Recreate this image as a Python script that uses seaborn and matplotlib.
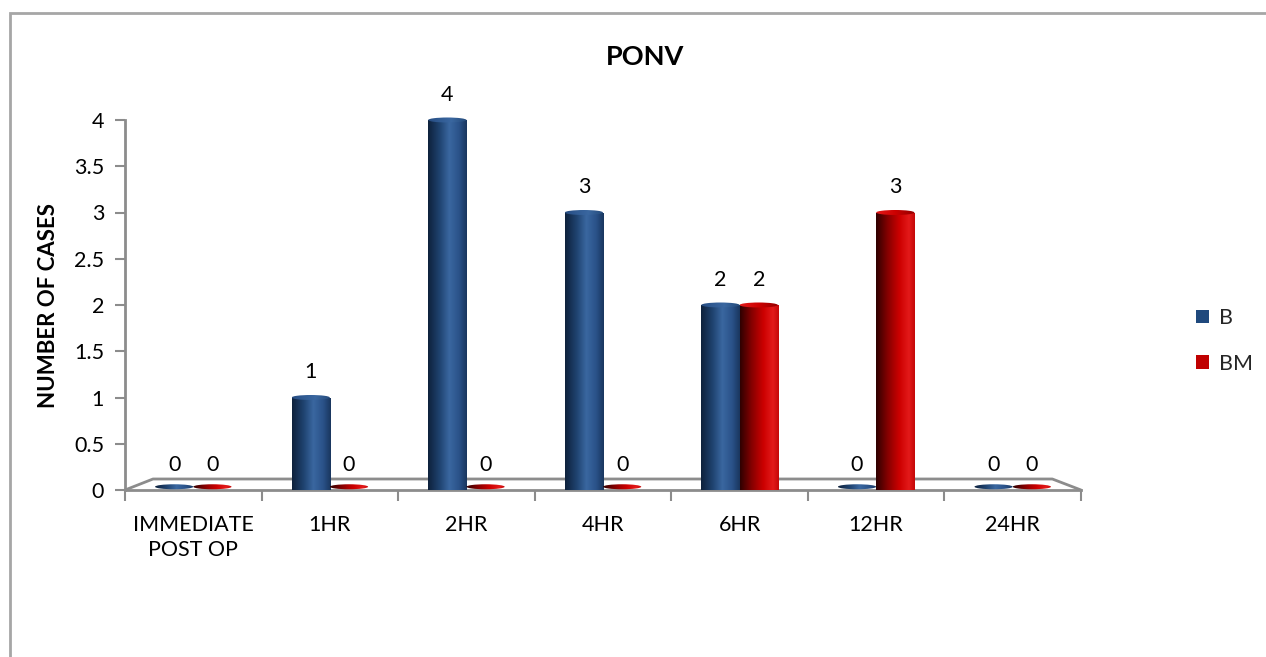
import numpy as np
import pandas as pd
import matplotlib
matplotlib.use("Agg")
import matplotlib.pyplot as plt
import matplotlib.patches as mpatches
from matplotlib.colors import LinearSegmentedColormap
import seaborn as sns

# ---- data ----
categories = ["IMMEDIATE\nPOST OP", "1HR", "2HR", "4HR", "6HR", "12HR", "24HR"]
series_names = ["B", "BM"]
b_values = [0, 1, 4, 3, 2, 0, 0]
bm_values = [0, 0, 0, 0, 2, 3, 0]
y_ticks = [0, 0.5, 1, 1.5, 2, 2.5, 3, 3.5, 4]
y_tick_labels = ["0", "0.5", "1", "1.5", "2", "2.5", "3", "3.5", "4"]

df = pd.DataFrame({
    "period": categories * 2,
    "group": [series_names[0]] * len(categories) + [series_names[1]] * len(categories),
    "cases": b_values + bm_values,
})

sns.set_theme(style="white")
plt.rcParams["font.family"] = ["Lato", "DejaVu Sans"]

FS = 15.5

base_colors = {"B": "#1F497D", "BM": "#C00000"}
shade_maps = {
    "B": LinearSegmentedColormap.from_list(
        "cyl_b", [(0.0, "#0E213B"), (0.3, "#1F4370"), (0.55, "#3A67A0"),
                  (0.8, "#2A5289"), (1.0, "#19365E")]),
    "BM": LinearSegmentedColormap.from_list(
        "cyl_bm", [(0.0, "#2E0000"), (0.3, "#850000"), (0.6, "#CC0000"),
                   (0.85, "#E31A1A"), (1.0, "#C40808")]),
}

W, H = 1266, 657
px_per_unit = 370 / 4.0
y_top = 4.12
fig = plt.figure(figsize=(W / 100, H / 100), dpi=100)
ax = fig.add_axes([125 / W, 1 - 490 / H, 956 / W, y_top * px_per_unit / H])

sns.barplot(data=df, x="period", y="cases", hue="group", hue_order=series_names,
            palette=base_colors, width=0.56, gap=0, saturation=1,
            legend=False, ax=ax, zorder=3)

cap_h = 5 / px_per_unit
grad = np.linspace(0, 1, 256)[None, :]

# cylinder shading, end caps and value labels
for name, cont in zip(series_names, ax.containers):
    cmap = shade_maps[name]
    for bar in cont:
        x0, w, h = bar.get_x(), bar.get_width(), bar.get_height()
        xc = x0 + w / 2
        bar.set_edgecolor("none")
        if h > 0:
            im = ax.imshow(grad, extent=[x0, x0 + w, 0, h], aspect="auto",
                           cmap=cmap, zorder=3.1, interpolation="bilinear")
            im.set_clip_path(bar)
            top = mpatches.Ellipse((xc, h), w, cap_h, facecolor="none",
                                   edgecolor="none", zorder=3.3)
            ax.add_patch(top)
            imt = ax.imshow(grad[:, ::-1] * 0.5 + 0.35,
                            extent=[x0, x0 + w, h - cap_h, h + cap_h],
                            aspect="auto", cmap=cmap, vmin=0, vmax=1, zorder=3.3,
                            interpolation="bilinear")
            imt.set_clip_path(top)
        bottom = mpatches.Ellipse((xc, 0.035), w, cap_h, facecolor="none",
                                  edgecolor="none", zorder=3.2)
        ax.add_patch(bottom)
        im2 = ax.imshow(grad, extent=[x0, x0 + w, 0, 0.08], aspect="auto",
                        cmap=cmap, zorder=3.2, interpolation="bilinear")
        im2.set_clip_path(bottom)
    ax.bar_label(cont, labels=[f"{v:g}" for v in cont.datavalues],
                 padding=11, fontsize=FS, color="black", zorder=5)

ax.set_xlim(-0.5, len(categories) - 0.5)
ax.set_ylim(0, y_top)

# floor outline
gray = "#8C8C8C"
depth = 11 / px_per_unit
ax.plot([-0.5, -0.5 + 0.205, len(categories) - 0.5 - 0.21, len(categories) - 0.5],
        [0, depth, depth, 0], color=gray, lw=2, clip_on=False, zorder=2)

# axes styling
for side in ["top", "right"]:
    ax.spines[side].set_visible(False)
ax.spines["left"].set_color(gray)
ax.spines["bottom"].set_color(gray)
ax.spines["left"].set_linewidth(2)
ax.spines["bottom"].set_linewidth(2)
ax.spines["left"].set_bounds(0, 4)

ax.set_yticks(y_ticks)
ax.set_yticklabels(y_tick_labels)
ax.tick_params(axis="y", direction="out", length=7, width=1.5, color=gray,
               labelsize=FS, labelcolor="black", pad=8, left=True)
ax.set_xticks(range(len(categories)))
ax.set_xticklabels(categories)
ax.tick_params(axis="x", length=0, labelsize=FS, labelcolor="black", pad=18)
ax.set_xticks(np.arange(-0.5, len(categories)), minor=True)
ax.tick_params(axis="x", which="minor", direction="out", length=8, width=1.5,
               color=gray, bottom=True)
for lbl in ax.get_xticklabels():
    lbl.set_linespacing(1.3)

ax.set_xlabel("")
ax.set_ylabel("NUMBER OF CASES", fontsize=16, fontweight="bold", color="black")
ax.yaxis.set_label_coords(-66 / 956, 185 / (y_top * px_per_unit))

fig.text(645 / W, 1 - 57 / H, "PONV", ha="center", va="center",
         fontsize=19.5, fontweight="bold", color="black")

handles = [mpatches.Patch(facecolor=base_colors[n], edgecolor="none", label=n)
           for n in series_names]
fig.legend(handles=handles, loc="center left",
           bbox_to_anchor=(1196 / W, 1 - 341 / H), frameon=False,
           borderaxespad=0, borderpad=0,
           fontsize=FS, handlelength=0.62, handleheight=0.62,
           handletextpad=0.45, labelspacing=1.2)

# chart frame
fig.add_artist(mpatches.Rectangle((10 / W, -0.1), 1.2, 1.1 - 13 / H,
                                  transform=fig.transFigure, fill=False,
                                  edgecolor="#A6A6A6", lw=2))

fig.savefig("out.png", dpi=100)
